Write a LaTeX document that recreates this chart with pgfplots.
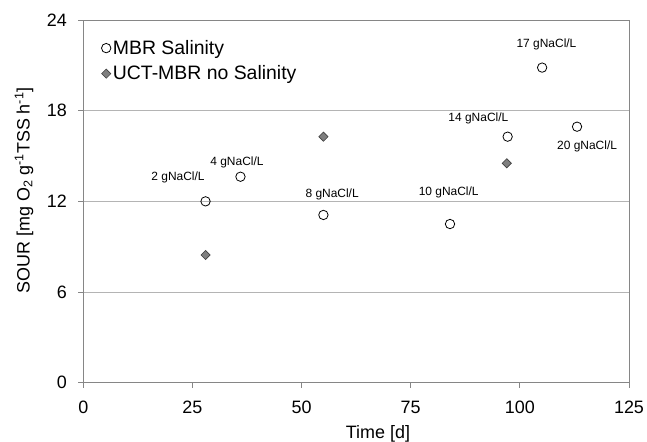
\documentclass[border=0pt]{standalone}
\usepackage{fontspec}
\setmainfont{Liberation Sans}
\usepackage{pgfplots}
\pgfplotsset{compat=1.18}
\definecolor{axgray}{HTML}{868686}
\definecolor{gridgray}{HTML}{B4B4B4}
\definecolor{dia}{HTML}{7F7F7F}
\definecolor{diaedge}{HTML}{404040}
\begin{document}
\begin{tikzpicture}
\path[use as bounding box] (-83.3bp,-59.3bp) rectangle (563.7bp,382.7bp);
\begin{axis}[
  at={(0,0)}, anchor=south west,
  scale only axis=true,
  width=545.7bp, height=362.7bp,
  xmin=0, xmax=125, ymin=0, ymax=24,
  xtick={0,25,50,75,100,125},
  ytick={0,6,12,18,24},
  xtick pos=left, ytick pos=left,
  tick align=outside,
  major tick length=5bp,
  tick style={color=axgray, line width=0.8pt},
  axis line style={color=axgray, line width=0.8pt},
  ymajorgrids=true,
  grid style={color=gridgray, line width=0.8pt},
  /pgf/number format/assume math mode=true,
  ticklabel style={font=\fontsize{18}{20}\selectfont},
  xticklabel style={yshift=-10bp},
  yticklabel style={xshift=-8bp},
  xlabel={Time [d]},
  ylabel={SOUR [mg O\textsubscript{2} g\textsuperscript{-1}TSS h\textsuperscript{-1}]},
  label style={font=\fontsize{18}{20}\selectfont},
  xlabel style={at={(axis description cs:0.54,-0.14)}, anchor=center},
  ylabel style={at={(axis description cs:-0.1087,0.53)}, anchor=center, rotate=0},
  legend style={at={(axis description cs:0.033,0.95)}, anchor=north west,
    draw=none, fill=none, font=\fontsize{19.5}{22}\selectfont,
    row sep=6bp, inner sep=0pt},
  legend cell align=left,
  clip=false,
]
\addplot[only marks, mark=o, mark size=4.7bp, mark options={draw=black, fill=white, line width=0.8pt}]
  coordinates {(28,12.0) (36,13.63) (55,11.1) (84,10.5) (97.2,16.28) (105.1,20.85) (113.1,16.94)};
\addlegendentry{MBR Salinity}
\addplot[only marks, mark=square*, mark size=3.25bp, mark options={draw=diaedge, fill=dia, line width=0.6pt, rotate=45}]
  coordinates {(28,8.45) (55,16.28) (97,14.52)};
\addlegendentry{UCT-MBR no Salinity}
\begin{scope}[every node/.style={font=\fontsize{12}{14}\selectfont, inner sep=0pt}]
\node at (axis cs:21.7,13.6) {2 gNaCl/L};
\node at (axis cs:35.2,14.6) {4 gNaCl/L};
\node at (axis cs:57.0,12.49) {8 gNaCl/L};
\node at (axis cs:83.7,12.58) {10 gNaCl/L};
\node at (axis cs:90.5,17.5) {14 gNaCl/L};
\node at (axis cs:106.1,22.4) {17 gNaCl/L};
\node at (axis cs:115.4,15.62) {20 gNaCl/L};
\end{scope}
\end{axis}
\end{tikzpicture}
\end{document}
